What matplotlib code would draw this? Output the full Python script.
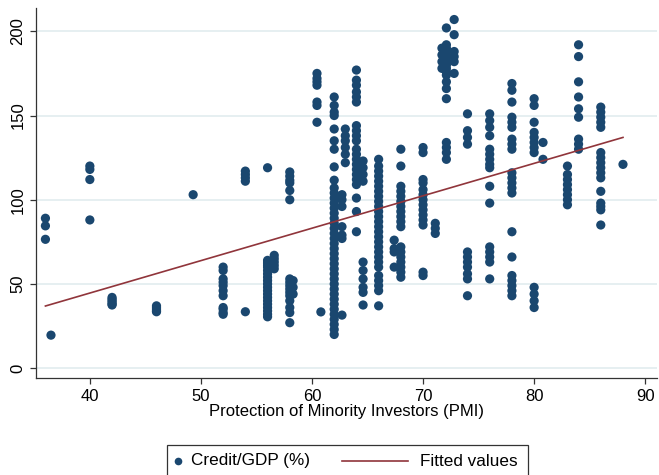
import matplotlib.pyplot as plt
from matplotlib.lines import Line2D
from matplotlib.patches import Rectangle
import numpy as np

plt.rcParams["font.family"] = ["Liberation Sans", "DejaVu Sans"]

# PMI score of each country group and the credit/GDP observations at that score
pmi_levels = [36, 36.5, 40, 42, 46, 49.3, 52, 54, 56, 56.6, 58, 58.3,
              60.45, 60.8, 62, 62.7, 63, 64, 64.6, 66, 67.4, 68, 70, 71.1,
              71.7, 72.1, 72.8, 74, 76, 78, 80, 80.8, 83, 84, 86, 88]
credit_groups = [
    [89, 84.5, 76.5],
    [19.6],
    [120, 118, 112, 88],
    [42, 41, 40, 39, 38, 37.5],
    [37, 36, 35, 34, 33.5],
    [103],
    [60, 58, 53, 51, 49, 46, 43, 36, 35, 33, 32],
    [117, 115, 113, 111, 33.5],
    [119, 64, 63, 62, 61, 60, 58, 56, 54, 52, 50, 48, 46, 44, 42, 40, 38,
     36, 34, 32, 30.5],
    [67, 65, 63, 61, 59],
    [116.5, 114, 111.5, 110, 105.5, 100, 53, 51, 49, 47, 45, 43, 40, 36,
     33, 27],
    [52, 48, 44],
    [175, 172, 170, 168, 158, 156, 146],
    [33.4],
    [161, 156, 152, 150, 142, 135, 130, 119.5, 111.6, 107, 104, 101, 98,
     95, 92, 89, 86, 83, 80, 77, 74, 71, 68, 65, 62, 59, 56, 53, 50, 47,
     44, 41, 38, 35, 32, 29, 26, 23, 20],
    [103, 100, 96, 84, 79, 77, 31.5],
    [142, 138, 135, 131, 127, 122],
    [177, 171, 168, 164, 161, 158, 144, 141, 138, 135, 130, 127, 124, 121,
     118, 115, 112, 109, 101, 93, 81],
    [123, 119, 115, 111, 63, 58, 53, 48, 45, 37.5],
    [124, 120, 117, 114, 111, 108, 105, 102, 99, 96, 93, 90, 87, 84, 81,
     78, 75, 72, 69, 66, 63, 60, 55, 52, 49, 46, 37],
    [76, 71, 69, 60],
    [130, 120, 108, 105, 102, 99, 96, 93, 90, 87, 84, 72, 69, 66, 63, 60,
     57, 54],
    [131, 128, 112, 110, 106, 103, 100, 97, 94, 91, 88, 85, 57, 55],
    [86, 83, 80],
    [190, 186, 182, 178],
    [202, 192, 190, 188, 186, 184, 182, 180, 178, 176, 174, 170, 166, 160,
     134, 131, 128, 124],
    [207, 198, 188, 185, 182, 175],
    [151, 141, 137, 133, 69, 66, 63, 60, 56, 53, 43],
    [151, 147, 143, 138, 130, 127, 124, 121, 119, 108, 98, 72, 69, 66, 63,
     53],
    [169, 165, 158, 149, 146, 143, 136, 133, 130, 116, 113, 110, 107, 104,
     81, 66, 55, 52, 49, 46, 43],
    [160, 156, 146, 140, 137, 134, 131, 128, 48, 44, 40, 36],
    [134, 124],
    [120, 115, 112, 109, 106, 103, 100, 97],
    [192, 185, 170, 161, 154, 149, 136, 133, 130],
    [155, 152, 149, 146, 143, 128, 125, 122, 119, 116, 113, 105, 98, 96,
     94, 85],
    [121],
]

# linear fit of credit on PMI
fit_intercept = -32.4
fit_slope = 1.925

x_ticks = [40, 50, 60, 70, 80, 90]
y_ticks = [0, 50, 100, 150, 200]
series_names = ["Credit/GDP (%)", "Fitted values"]

pmi = np.concatenate([[lv] * len(g) for lv, g in zip(pmi_levels, credit_groups)])
credit = np.concatenate([np.array(g, dtype=float) for g in credit_groups])

navy = "#1a476f"
maroon = "#90353b"
W, H = 659, 475

fig = plt.figure(figsize=(W / 100, H / 100), dpi=100)
ax = fig.add_axes([0.0546, 0.204, 0.943, 0.779])

ax.scatter(pmi, credit, s=44, color=navy, edgecolors="none", zorder=3)
fit_x = np.array([pmi.min(), pmi.max()])
ax.plot(fit_x, fit_intercept + fit_slope * fit_x, color=maroon, lw=1.2,
        zorder=4)

ax.set_xlim(35.15, 91.1)
ax.set_ylim(-5.9, 213.8)
ax.set_xticks(x_ticks)
ax.set_yticks(y_ticks)
ax.set_yticklabels([str(v) for v in y_ticks], rotation=90, va="center")
ax.tick_params(labelsize=12, length=4, width=0.9, color="#333333")
ax.grid(axis="y", color="#e4eef0", lw=1.3, zorder=0)
ax.set_axisbelow(True)

for side in ("top", "right"):
    ax.spines[side].set_visible(False)
for side in ("left", "bottom"):
    ax.spines[side].set_linewidth(0.9)
    ax.spines[side].set_color("#333333")

ax.set_xlabel("Protection of Minority Investors (PMI)", fontsize=12,
              labelpad=0)


# key box below the plot, laid out in pixel units
def px(x, y):
    return x / W, 1 - y / H


key_y = 461
fig.add_artist(Rectangle(px(167, 490), 361 / W, 45 / H, transform=fig.transFigure,
                         facecolor="white", edgecolor="#333333", lw=0.9))
fig.add_artist(Line2D([px(178, 0)[0]], [px(0, key_y)[1]], marker="o", ms=5.5,
                      color=navy, mec="none", lw=0, transform=fig.transFigure))
fig.text(*px(191, key_y), series_names[0], fontsize=12.3, va="center")
fig.add_artist(Line2D([px(342, 0)[0], px(408, 0)[0]], [px(0, key_y)[1]] * 2,
                      color=maroon, lw=1.2, transform=fig.transFigure))
fig.text(*px(420, key_y), series_names[1], fontsize=12.3, va="center")

fig.savefig("out.png", dpi=100)
